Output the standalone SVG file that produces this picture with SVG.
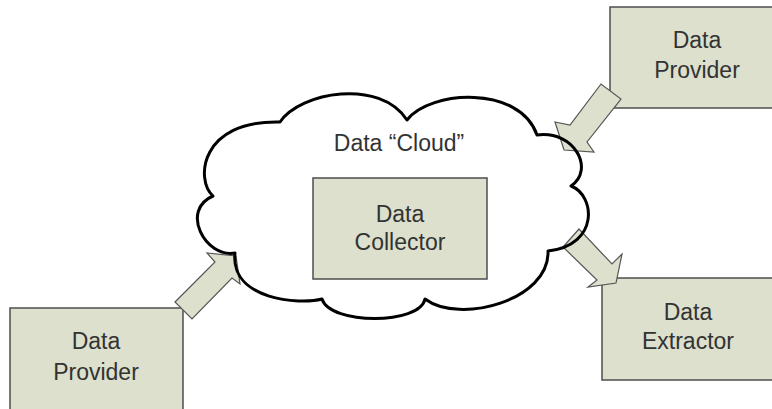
<svg xmlns="http://www.w3.org/2000/svg" width="772" height="409" viewBox="0 0 772 409">
<style>
.box{fill:#dce0cd;stroke:#4d4d4d;stroke-width:1.5}
.lbl{font-family:"Liberation Sans",Arial,sans-serif;font-size:23px;fill:#333;text-anchor:middle}
.arrow{fill:#dce0cd;stroke:#555;stroke-width:1.2;stroke-linejoin:miter}
.cloud-line{fill:none;stroke:#000;stroke-width:3;stroke-linejoin:round}
</style>
<defs>
<path id="cloudShape" d="M280,122 C300,92 380,78 407,120 C430,90 520,85 537,135 C575,130 595,170 571,186 C595,195 600,245 548,251 C550,300 460,325 425,299 C420,325 330,325 322,299 C300,305 230,300 235,253 C205,258 180,210 213,196 C195,180 200,120 280,122 Z"/>
</defs>
<rect width="772" height="409" fill="#fff"/>
<g id="cloud">
<use href="#cloudShape" fill="#fff"/>
<text class="lbl" x="399" y="151">Data “Cloud”</text>
</g>
<g id="collector">
<rect class="box" x="313" y="178" width="174" height="101"/>
<text class="lbl" x="400" y="222">Data</text>
<text class="lbl" x="400" y="250">Collector</text>
</g>
<g id="provider-left">
<rect class="box" x="10" y="308" width="173" height="110"/>
<text class="lbl" x="96" y="349">Data</text>
<text class="lbl" x="96" y="380">Provider</text>
</g>
<g id="provider-right">
<rect class="box" x="610" y="7" width="175" height="101"/>
<text class="lbl" x="697" y="48">Data</text>
<text class="lbl" x="697" y="78">Provider</text>
</g>
<g id="extractor">
<rect class="box" x="602" y="278" width="175" height="102"/>
<text class="lbl" x="688" y="320">Data</text>
<text class="lbl" x="688" y="349">Extractor</text>
</g>
<g id="connectors">
<polygon class="arrow" points="175,302 215,262 207,253 236,256 240,284 232,278 192,319"/>
<polygon class="arrow" points="601,84 570,125 555,122 564,150 594,152 587,142 621,99"/>
<polygon class="arrow" points="579,229 612,264 622,254 616,283 588,287 597,280 563,247"/>
</g>
<g id="cloud-outline">
<use href="#cloudShape" class="cloud-line"/>
</g>
</svg>
